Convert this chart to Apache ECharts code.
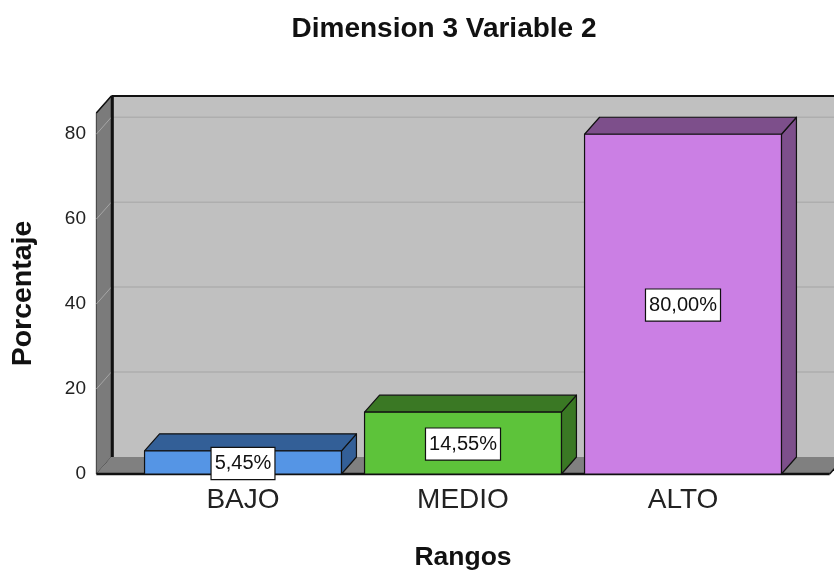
<!DOCTYPE html>
<html>
<head>
<meta charset="utf-8">
<script src="https://cdn.jsdelivr.net/npm/echarts@6/dist/echarts.min.js"></script>
<style>
  html, body { margin: 0; padding: 0; background: #ffffff; }
  #chart { width: 834px; height: 572px; }
</style>
</head>
<body>
<div id="chart"></div>
<script>
// Categories and percentage values
const categories = ['BAJO', 'MEDIO', 'ALTO'];
const percentages = [5.45, 14.55, 80.00];
const yTickValues = [0, 20, 40, 60, 80];
const yMax = 85;

// Bar colours: front face and shaded top/side
const frontColors = ['#5595e5', '#5dc33a', '#cb7fe4'];
const shadeColors = ['#335f97', '#3a7824', '#7d4f8b'];

// Depth offset of the 3D box (px)
const DX = 15, DY = 17;

function fmtPct(v) {
  return v.toFixed(2).replace('.', ',') + '%';
}

const chart = echarts.init(document.getElementById('chart'));

// Frame: back wall, left wall, floor and gridlines
function renderFrame(params, api) {
  const bw = api.size([1, 0])[0];
  const c0 = api.coord([0, 0]);
  const xL = c0[0] - bw * 2 / 3;
  const xR = c0[0] + bw * 8 / 3;
  const yB = c0[1];
  const yT = api.coord([0, yMax])[1];
  const farR = xR + 40;
  const children = [];
  // back wall
  children.push({ type: 'rect', shape: { x: xL + DX, y: yT - DY, width: farR - xL, height: yB - yT },
    style: { fill: '#c0c0c0' } });
  // left wall
  children.push({ type: 'polygon', shape: { points: [[xL, yB], [xL, yT], [xL + DX, yT - DY], [xL + DX, yB - DY]] },
    style: { fill: '#7b7b7b', stroke: '#3a3a3a', lineWidth: 1 } });
  // floor
  children.push({ type: 'polygon', shape: { points: [[xL, yB], [xR, yB], [xR + DX, yB - DY], [xL + DX, yB - DY]] },
    style: { fill: '#808080' } });
  // gridlines
  yTickValues.forEach(function (t) {
    if (t === 0) return;
    const y = api.coord([0, t])[1];
    children.push({ type: 'line', shape: { x1: xL + DX, y1: y - DY, x2: farR, y2: y - DY },
      style: { stroke: '#aeaeae', lineWidth: 1.5 } });
    children.push({ type: 'line', shape: { x1: xL, y1: y, x2: xL + DX, y2: y - DY },
      style: { stroke: '#a6a6a6', lineWidth: 1 } });
  });
  // edges
  children.push({ type: 'line', shape: { x1: xL + DX, y1: yT - DY, x2: farR, y2: yT - DY },
    style: { stroke: '#111', lineWidth: 2 } });
  children.push({ type: 'line', shape: { x1: xL + DX + 1, y1: yT - DY, x2: xL + DX + 1, y2: yB - DY },
    style: { stroke: '#111', lineWidth: 3 } });
  children.push({ type: 'line', shape: { x1: xL, y1: yT, x2: xL + DX, y2: yT - DY },
    style: { stroke: '#111', lineWidth: 1.5 } });
  children.push({ type: 'line', shape: { x1: xL, y1: yB, x2: xR, y2: yB },
    style: { stroke: '#111', lineWidth: 2.5 } });
  children.push({ type: 'line', shape: { x1: xR, y1: yB, x2: xR + DX, y2: yB - DY },
    style: { stroke: '#111', lineWidth: 1.5 } });
  return { type: 'group', children: children };
}

// 3D bars with value labels on the front face
function renderBar(params, api) {
  const i = api.value(0);
  const v = api.value(1);
  const top = api.coord([i, v]);
  const base = api.coord([i, 0]);
  const w = api.size([1, 0])[0] * 0.895;
  const x0 = top[0] - w / 2, x1 = top[0] + w / 2;
  const yT = top[1], yB = base[1];
  const front = frontColors[params.dataIndex];
  const shade = shadeColors[params.dataIndex];
  const edge = { stroke: '#111', lineWidth: 1.2, lineJoin: 'round' };
  return {
    type: 'group',
    children: [
      { type: 'polygon', shape: { points: [[x1, yT], [x1 + DX, yT - DY], [x1 + DX, yB - DY], [x1, yB]] },
        style: Object.assign({ fill: shade }, edge) },
      { type: 'polygon', shape: { points: [[x0, yT], [x0 + DX, yT - DY], [x1 + DX, yT - DY], [x1, yT]] },
        style: Object.assign({ fill: shade }, edge) },
      { type: 'rect', shape: { x: x0, y: yT, width: w, height: yB - yT },
        style: Object.assign({ fill: front }, edge) },
      { type: 'text', x: (x0 + x1) / 2, y: (yT + yB) / 2 + 1,
        style: { text: fmtPct(v), align: 'center', verticalAlign: 'middle',
          font: '20px "Liberation Sans", Arial, sans-serif', fill: '#111',
          backgroundColor: '#ffffff', borderColor: '#111', borderWidth: 1.2,
          padding: [6, 3, 5, 3] } }
    ]
  };
}

chart.setOption({
  animation: false,
  backgroundColor: '#ffffff',
  graphic: [{
    type: 'text', x: 444, y: 29,
    style: { text: 'Dimension 3 Variable 2', align: 'center', verticalAlign: 'middle',
      font: 'bold 28px "Liberation Sans", Arial, sans-serif', fill: '#111' }
  }],
  grid: { left: 133, right: 41, top: 113, bottom: 98, containLabel: false, outerBoundsMode: 'none' },
  xAxis: {
    type: 'category',
    data: categories,
    axisLine: { show: false },
    axisTick: { show: false },
    axisLabel: { margin: 12, color: '#222', fontSize: 28, fontFamily: '"Liberation Sans", Arial, sans-serif' },
    name: 'Rangos',
    nameLocation: 'middle',
    nameGap: 70,
    nameTextStyle: { fontSize: 26.5, fontWeight: 'bold', color: '#111', fontFamily: '"Liberation Sans", Arial, sans-serif' },
    splitLine: { show: false }
  },
  yAxis: {
    type: 'value',
    min: 0,
    max: yMax,
    interval: 20,
    offset: 36,
    axisLine: { show: false },
    axisTick: { show: false },
    splitLine: { show: false },
    axisLabel: {
      margin: 11, color: '#222', fontSize: 19, fontFamily: '"Liberation Sans", Arial, sans-serif',
      formatter: function (v) { return yTickValues.indexOf(v) >= 0 ? String(v) : ''; }
    },
    name: 'Porcentaje',
    nameLocation: 'middle',
    nameGap: 59,
    nameRotate: 90,
    nameTextStyle: { fontSize: 28.5, fontWeight: 'bold', color: '#111', fontFamily: '"Liberation Sans", Arial, sans-serif' }
  },
  series: [
    {
      type: 'custom',
      renderItem: renderFrame,
      data: [[0, 0]],
      encode: { x: 0, y: 1 },
      z: 1,
      silent: true
    },
    {
      type: 'custom',
      renderItem: renderBar,
      data: categories.map(function (c, i) { return [i, percentages[i]]; }),
      encode: { x: 0, y: 1 },
      z: 2
    }
  ]
});
</script>
</body>
</html>
